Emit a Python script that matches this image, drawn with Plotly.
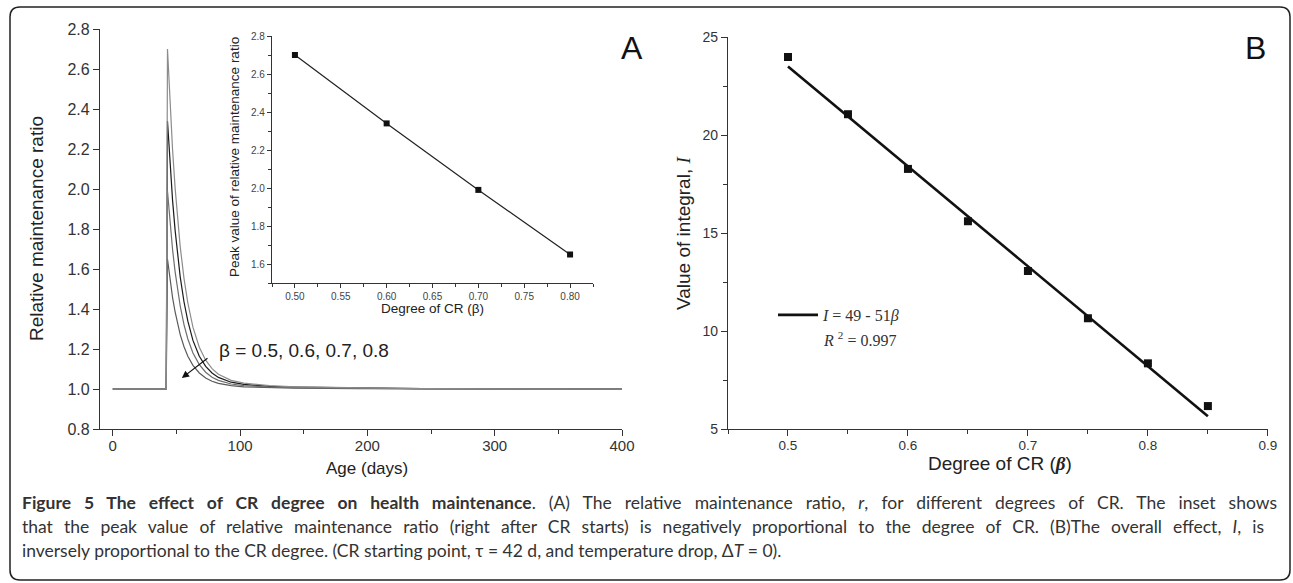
import plotly.graph_objects as go

# ---------------- data ----------------
# Panel A main: age (days) and relative maintenance ratio for beta = 0.5 .. 0.8
age_days = [0, 42, 43, 45, 47, 49, 51, 53, 56, 59, 63, 68, 73, 78, 83, 93, 103, 123, 143, 193, 243, 303, 400]
r_beta05 = [1.0, 1.0, 2.70, 2.426, 2.196, 2.005, 1.845, 1.712, 1.552, 1.430, 1.309, 1.209, 1.144, 1.102, 1.074, 1.043, 1.029, 1.017, 1.011, 1.005, 1.002, 1.001, 1.000]
r_beta06 = [1.0, 1.0, 2.34, 2.124, 1.943, 1.793, 1.666, 1.561, 1.435, 1.339, 1.243, 1.164, 1.113, 1.080, 1.058, 1.034, 1.023, 1.013, 1.009, 1.004, 1.002, 1.001, 1.000]
r_beta07 = [1.0, 1.0, 1.99, 1.830, 1.697, 1.586, 1.492, 1.415, 1.321, 1.250, 1.180, 1.122, 1.084, 1.059, 1.043, 1.025, 1.017, 1.010, 1.007, 1.003, 1.001, 1.000, 1.000]
r_beta08 = [1.0, 1.0, 1.65, 1.545, 1.457, 1.385, 1.323, 1.272, 1.211, 1.164, 1.118, 1.080, 1.055, 1.039, 1.028, 1.017, 1.011, 1.007, 1.004, 1.002, 1.001, 1.000, 1.000]

# Panel A inset: peak value vs degree of CR
inset_beta = [0.5, 0.6, 0.7, 0.8]
inset_peak = [2.70, 2.34, 1.99, 1.65]

# Panel B: value of integral vs degree of CR, and linear fit
b_beta = [0.50, 0.55, 0.60, 0.65, 0.70, 0.75, 0.80, 0.85]
b_integral = [23.98, 21.06, 18.27, 15.60, 13.06, 10.65, 8.35, 6.17]
fit_beta = [0.50, 0.85]
fit_integral = [23.50, 5.65]

W, H = 1293, 583
SANS = "Liberation Sans, Arial, sans-serif"
SERIF = "Liberation Serif, Times New Roman, serif"
AX = "#333333"


def px(x):
    return x / W


def py(y):
    return 1 - y / H


def axis(**kw):
    d = dict(showline=True, linecolor=AX, linewidth=1.3, ticks="outside", ticklen=6,
             tickwidth=1.2, tickcolor=AX, showgrid=False, zeroline=False, mirror=False,
             fixedrange=True, automargin=False)
    d.update(kw)
    return d


fig = go.Figure()

curve_styles = [
    (r_beta06, "#1a1a1a", "β = 0.6"),
    (r_beta08, "#5a5a5a", "β = 0.8"),
    (r_beta07, "#6e6e6e", "β = 0.7"),
    (r_beta05, "#8c8c8c", "β = 0.5"),
]
for vals, col, nm in curve_styles:
    fig.add_trace(go.Scatter(x=age_days, y=vals, mode="lines", name=nm,
                             line=dict(color=col, width=1.2), showlegend=False,
                             xaxis="x", yaxis="y"))

fig.add_trace(go.Scatter(x=inset_beta, y=inset_peak, mode="lines+markers",
                         line=dict(color="#222", width=1.2),
                         marker=dict(symbol="square", size=6, color="#111"),
                         showlegend=False, xaxis="x2", yaxis="y2"))

fig.add_trace(go.Scatter(x=b_beta, y=b_integral, mode="markers",
                         marker=dict(symbol="square", size=8, color="#111"),
                         showlegend=False, xaxis="x3", yaxis="y3"))
fig.add_trace(go.Scatter(x=fit_beta, y=fit_integral, mode="lines",
                         line=dict(color="#111", width=2.6),
                         name="<i>I</i> = 49 - 51<i>β</i>",
                         showlegend=True, xaxis="x3", yaxis="y3"))

fig.update_layout(
    width=W, height=H,
    margin=dict(l=0, r=0, t=0, b=0, pad=0, autoexpand=False),
    paper_bgcolor="white", plot_bgcolor="white",
    font=dict(family=SANS, color="#222"),
    xaxis=axis(domain=[px(100), px(622)], range=[-10, 400], tick0=0, dtick=100,
               anchor="y", tickfont=dict(size=15, color=AX), ticklabelstandoff=-3,
               minor=dict(ticks="outside", ticklen=4, tick0=0, dtick=50, tickcolor=AX, tickwidth=1.2)),
    yaxis=axis(domain=[py(429), py(29)], range=[0.8, 2.8], tick0=0, dtick=0.2,
               tickformat=".1f", anchor="x", tickfont=dict(size=16, color=AX)),
    xaxis2=axis(domain=[px(272), px(593)], range=[0.475, 0.825], tick0=0, dtick=0.05,
                tickformat=".2f", anchor="y2", ticklen=4, linewidth=1.1,
                tickfont=dict(size=10, color="#444"),
                minor=dict(ticks="outside", ticklen=2.5, tick0=0, dtick=0.025, tickcolor=AX)),
    yaxis2=axis(domain=[py(283), py(36)], range=[1.5, 2.8], tick0=0, dtick=0.2,
                tickformat=".1f", anchor="x2", ticklen=4, linewidth=1.1,
                tickfont=dict(size=10, color="#444"),
                minor=dict(ticks="outside", ticklen=2.5, tick0=0, dtick=0.1, tickcolor=AX)),
    xaxis3=axis(domain=[px(728), px(1268)], range=[0.45, 0.9001], tick0=0, dtick=0.1,
                tickformat=".1f", anchor="y3", tickfont=dict(size=13.5, color=AX),
                ticklabelstandoff=-2,
                minor=dict(ticks="outside", ticklen=4, tick0=0, dtick=0.05, tickcolor=AX)),
    yaxis3=axis(domain=[py(429), py(37)], range=[5, 25], tick0=0, dtick=5,
                anchor="x3", tickfont=dict(size=14, color=AX),
                minor=dict(ticks="outside", ticklen=4, tick0=0, dtick=2.5, tickcolor=AX)),
    legend=dict(x=px(773), y=py(298), xanchor="left", yanchor="top",
                bgcolor="rgba(0,0,0,0)", borderwidth=0,
                font=dict(family=SERIF, size=16, color="#333"),
                itemwidth=40, tracegroupgap=0),
)


def note(text, x, y, size, family=SANS, angle=0, xanchor="center", color="#222"):
    return dict(text=text, x=px(x), y=py(y), xref="paper", yref="paper", textangle=angle,
                xanchor=xanchor, yanchor="middle", showarrow=False,
                font=dict(size=size, family=family, color=color))


ann = []
# axis titles
ann.append(note("Relative maintenance ratio", 36, 229, 19, angle=-90))
ann.append(note("Age (days)", 367, 468, 17))
ann.append(note("Peak value of relative maintenance ratio", 235, 157, 13.5, angle=-90))
ann.append(note("Degree of CR (β)", 432, 308, 13.5))
ann.append(note("Value of integral, <span style='font-family:Liberation Serif'><i>I</i></span>",
                684, 233, 19, angle=-90))
ann.append(note("Degree of CR (<span style='font-family:Liberation Serif'><b><i>β</i></b></span>)",
                1000, 463, 19))
# R^2 text
ann.append(note("<i>R</i> <sup>2</sup> = 0.997", 821, 339, 16, family=SERIF, xanchor="left", color="#333"))
# panel letters
ann.append(note("A", 632, 48, 32, color="#111"))
ann.append(note("B", 1255, 48, 32, color="#111"))
# beta label + arrow
ann.append(dict(text="β = 0.5, 0.6, 0.7, 0.8", x=81.9, y=1.195, xref="x", yref="y",
                xanchor="left", yanchor="middle", showarrow=False,
                font=dict(size=19, family=SANS, color="#222")))
ann.append(dict(text="", x=54.3, y=1.055, ax=75.6, ay=1.16, xref="x", yref="y", axref="x", ayref="y",
                showarrow=True, arrowhead=2, arrowsize=1.2, arrowwidth=1.2, arrowcolor="#111"))
# caption
cap_lines = [
    "<b>Figure 5 The effect of CR degree on health maintenance</b>. (A) The relative maintenance ratio, <i>r</i>, for different degrees of CR. The inset shows",
    "that the peak value of relative maintenance ratio (right after CR starts) is negatively proportional to the degree of CR. (B)The overall effect, <i>I</i>, is",
    "inversely proportional to the CR degree. (CR starting point, τ = 42 d, and temperature drop, Δ<i>T</i> = 0).",
]
for i, t in enumerate(cap_lines):
    ann.append(note(t, 20, 502 + 24 * i, 17.5, family="Lato, Noto Sans, sans-serif",
                    xanchor="left", color="#333"))
fig.update_layout(annotations=ann)

# rounded frame around the whole figure
x0, x1, y0, y1 = px(10), px(1290), py(7), py(580)
rx, ry = 10 / W, 10 / H
path = (f"M {x0+rx},{y0} L {x1-rx},{y0} Q {x1},{y0} {x1},{y0-ry} "
        f"L {x1},{y1+ry} Q {x1},{y1} {x1-rx},{y1} L {x0+rx},{y1} Q {x0},{y1} {x0},{y1+ry} "
        f"L {x0},{y0-ry} Q {x0},{y0} {x0+rx},{y0} Z")
fig.add_shape(type="path", path=path, xref="paper", yref="paper",
              line=dict(color="#222", width=1.5), layer="above")

# page setup + justification of the first two caption lines (as in the printed caption)
post = """
var gd=document.getElementById('{plot_id}');
gd.style.position='fixed';gd.style.left='0px';gd.style.top='0px';
document.body.style.margin='0';document.body.style.padding='0';
document.documentElement.style.overflow='hidden';document.body.style.overflow='hidden';
var targets=[['Figure 5',1255],['that the peak',1242]];
gd.querySelectorAll('text.annotation-text').forEach(function(t){
  var s=t.textContent||'';
  targets.forEach(function(p){
    if(s.indexOf(p[0])===0){
      t.style.wordSpacing='0px';
      var b0=t.getBBox();
      var L=b0.width;
      var n=(s.match(/[ \\u00a0]/g)||[]).length;
      if(n>0 && p[1]>L){
        t.style.wordSpacing=((p[1]-L)/n)+'px';
        var b1=t.getBBox();
        var x=parseFloat(t.getAttribute('x')||'0');
        t.setAttribute('x', x+(b0.x-b1.x));
      }
    }
  });
});
"""
fig.write_html("out.html", config={"displayModeBar": False}, post_script=post)
